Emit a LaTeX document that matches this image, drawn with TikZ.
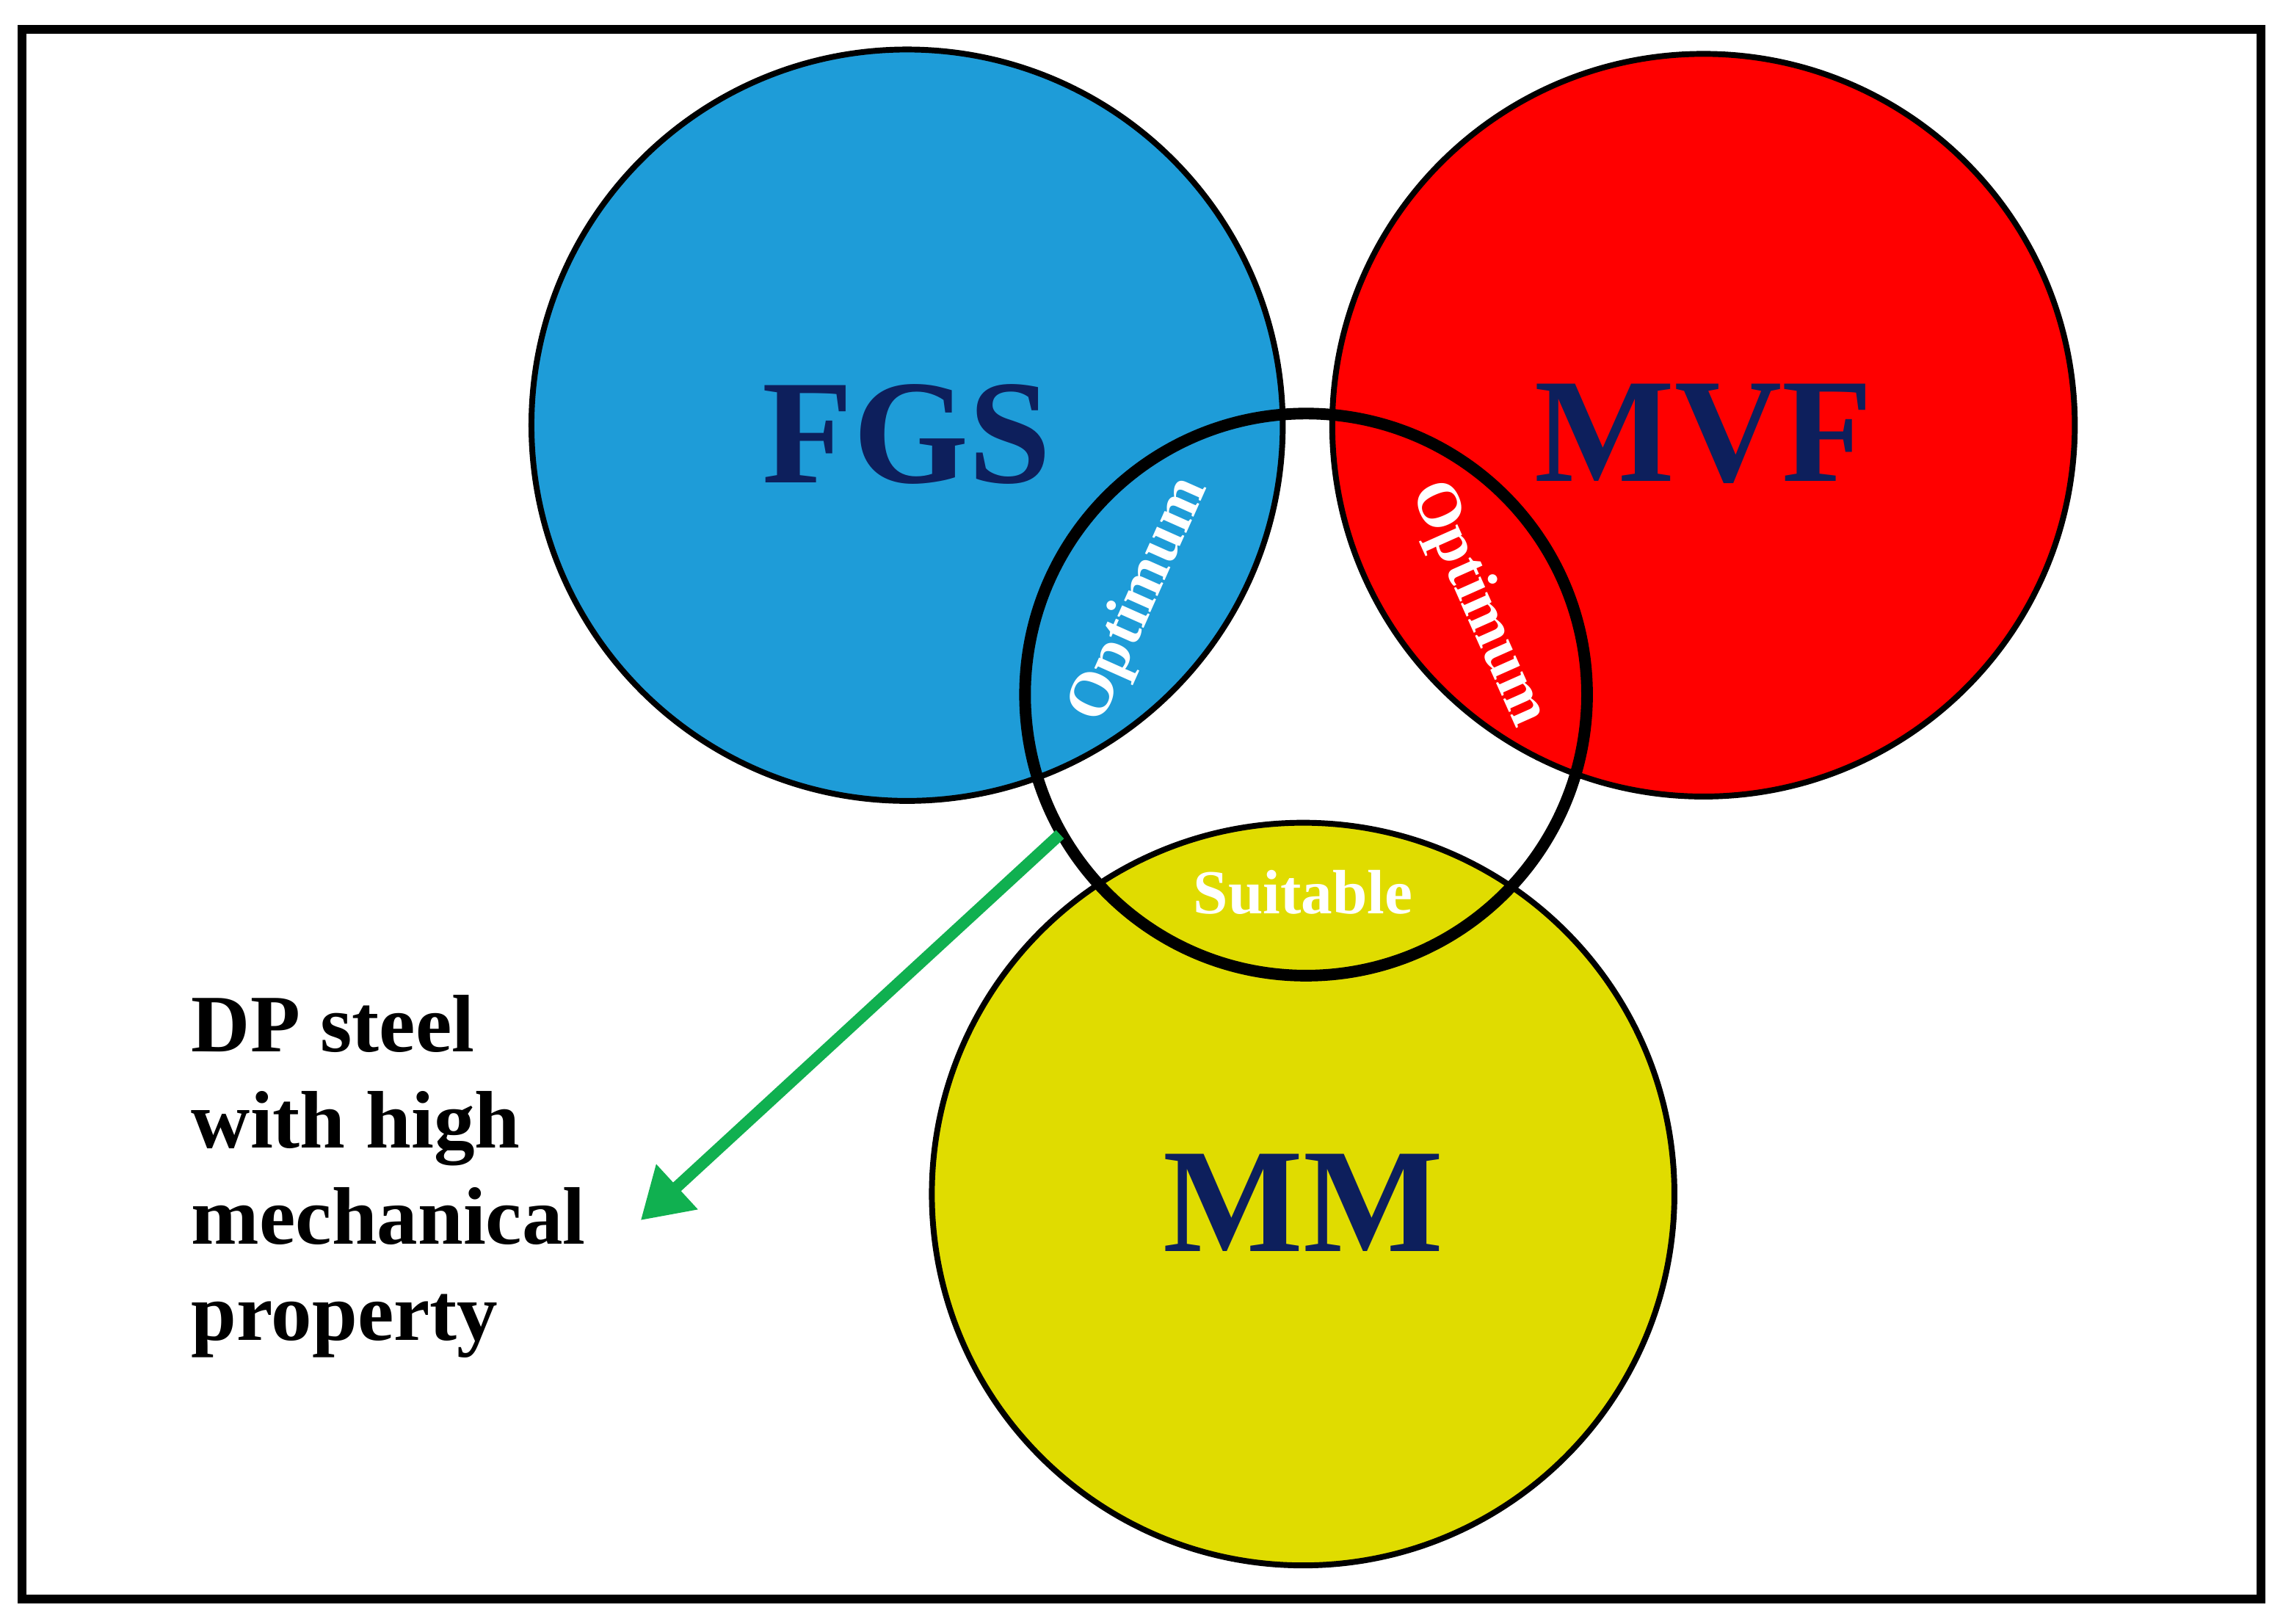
\documentclass[tikz,border=0pt]{standalone}
\usepackage{fontspec}
\setmainfont{Liberation Serif}
\usetikzlibrary{arrows.meta}
\definecolor{navy}{HTML}{0D1F5C}
\definecolor{cblue}{HTML}{1E9CD8}
\definecolor{cred}{HTML}{FF0000}
\definecolor{cyel}{HTML}{E0DC00}
\definecolor{cgreen}{HTML}{10B050}
\begin{document}
\begin{tikzpicture}[x=1pt,y=-1pt,
  circ/.style={circle,draw=black,line width=4pt,inner sep=0pt},
  big/.style={font=\fontsize{102}{102}\selectfont\bfseries,text=navy},
  small/.style={font=\fontsize{43}{43}\selectfont\bfseries,text=white}]
\useasboundingbox (0,0) rectangle (1568,1115);
\fill[white] (0,0) rectangle (1568,1115);
\draw[line width=6pt] (15,20) rectangle (1553,1098);
\node[circ,fill=cblue,minimum size=516pt] (fgs) at (623,292) {};
\node[circ,fill=cred,minimum size=510pt] (mvf) at (1170,292) {};
\node[circ,fill=cyel,minimum size=510pt] (mm) at (895,820) {};
\node[circle,draw=black,line width=8pt,minimum size=386pt,inner sep=0pt] (mid) at (897,477) {};
\node[big] (t1) at (623,298) {FGS};
\node[big] (t2) at (1170,298) {MVF};
\node[big] (t3) at (895,826) {MM};
\node[small,rotate=66] (o1) at (783,412) {Optimum};
\node[small,rotate=-66] (o2) at (1015,415) {Optimum};
\node[small] (s) at (895,613) {Suitable};
\coordinate (a0) at (728,573);
\coordinate (a1) at (440,838);
\draw[cgreen,line width=8pt,-{Triangle[length=34pt,width=40pt]}] (a0) -- (a1);
\node[anchor=north west,align=left,font=\fontsize{56}{66}\selectfont\bfseries] (dp) at (128,680) {DP steel\\with high\\mechanical\\property};
\end{tikzpicture}
\end{document}
